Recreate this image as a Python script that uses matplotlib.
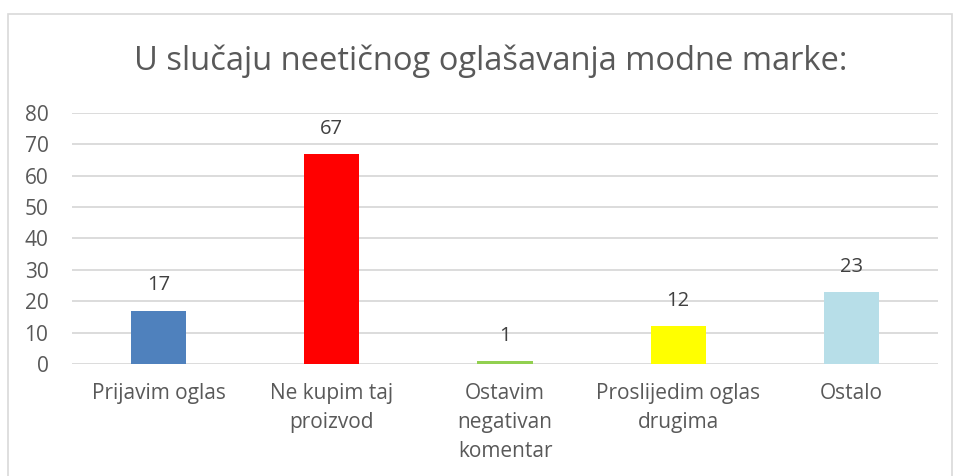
import matplotlib.pyplot as plt
from matplotlib.patches import Rectangle

# data
categories = [
    "Prijavim oglas",
    "Ne kupim taj\nproizvod",
    "Ostavim\nnegativan\nkomentar",
    "Proslijedim oglas\ndrugima",
    "Ostalo",
]
values = [17, 67, 1, 12, 23]
colors = ["#4F81BD", "#FF0000", "#92D050", "#FFFF00", "#B7DEE8"]
yticks = [0, 10, 20, 30, 40, 50, 60, 70, 80]

title = "U slučaju neetičnog oglašavanja modne marke:"

text_color = "#595959"
grid_color = "#D9D9D9"

plt.rcParams["font.family"] = ["Open Sans", "DejaVu Sans"]

figure = plt.figure(figsize=(9.55, 4.76), dpi=100)

# chart border
figure.patches.append(
    Rectangle(
        (8 / 955, -0.1),
        (952 - 8) / 955,
        1.1 - 14 / 476,
        transform=figure.transFigure,
        fill=False,
        edgecolor=grid_color,
        linewidth=1.2,
    )
)

ax = figure.add_axes([72 / 955, 1 - 364 / 476, (938 - 72) / 955, (364 - 113) / 476])

x = range(len(categories))

bars = ax.bar(x, values, width=0.318, color=colors, zorder=3)

for bar, value in zip(bars, values):
    ax.annotate(
        str(value),
        (bar.get_x() + bar.get_width() / 2, value),
        xytext=(0, 11),
        textcoords="offset points",
        ha="center",
        va="bottom",
        fontsize=14.5,
        color="#404040",
    )

ax.set_xlim(-0.5, len(categories) - 0.5)
ax.set_ylim(0, 80)
ax.set_yticks(yticks)
ax.set_xticks(list(x))
ax.set_xticklabels(categories, linespacing=1.5)

ax.grid(axis="y", color=grid_color, linewidth=1.3, zorder=0)
ax.tick_params(axis="both", length=0, labelsize=15, colors=text_color)
ax.tick_params(axis="x", pad=14)
ax.tick_params(axis="y", pad=17)

for spine in ax.spines.values():
    spine.set_visible(False)

figure.text(
    491 / 955,
    1 - 61 / 476,
    title,
    ha="center",
    va="center",
    fontsize=23.5,
    color=text_color,
)

figure.savefig("out.png", dpi=100)
